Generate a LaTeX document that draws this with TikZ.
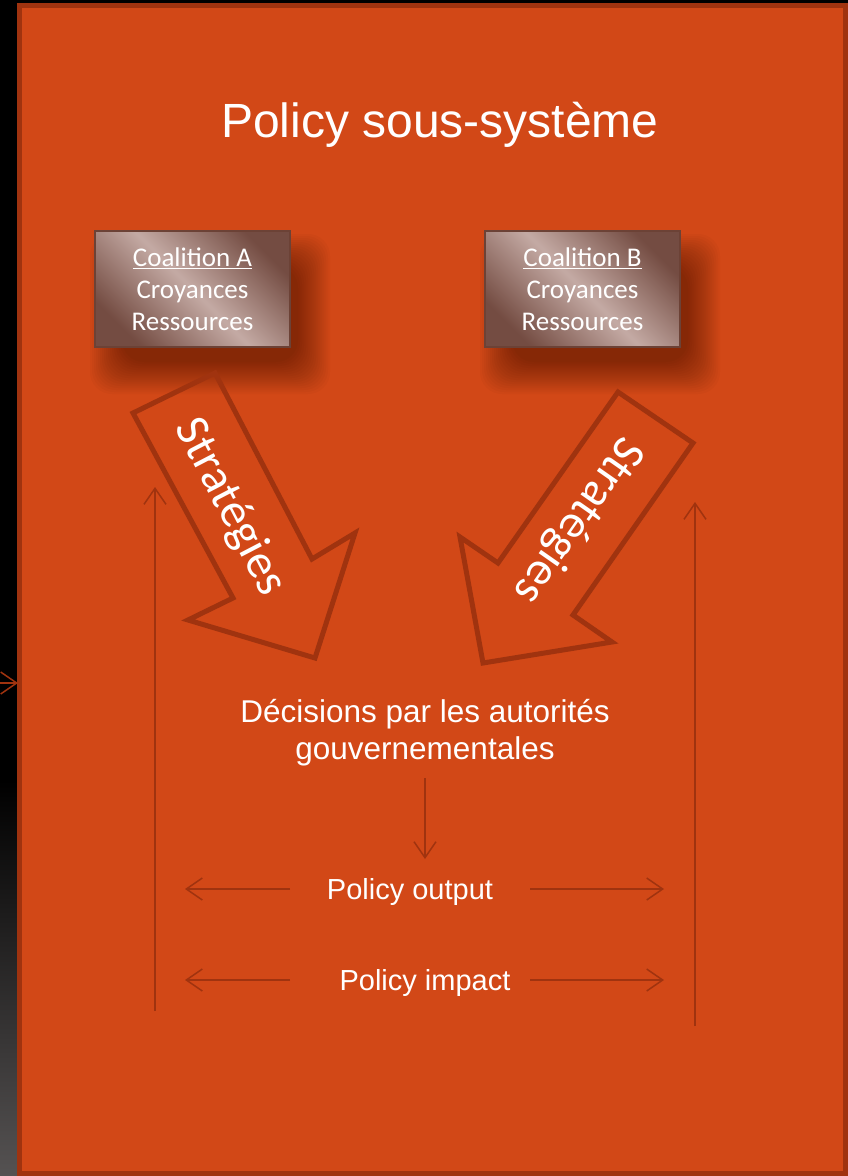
\documentclass[tikz,border=0pt]{standalone}
\usepackage{fontspec}
\setmainfont{Liberation Sans}
\newfontfamily\candara{Carlito}
\usetikzlibrary{arrows.meta}
\definecolor{bgorange}{RGB}{210,72,23}
\definecolor{edgebrown}{RGB}{160,51,15}
\definecolor{boxdark}{RGB}{116,76,66}
\definecolor{boxlight}{RGB}{196,170,164}
\definecolor{boxedge}{RGB}{108,66,54}
\definecolor{stripgray}{RGB}{85,82,82}
\tikzset{
  coal/.style={draw=boxedge, line width=1.5pt, minimum width=195pt, minimum height=116pt,
    inner sep=0pt, align=center, text=white,
    font=\candara\fontsize{27}{32}\selectfont,
    shading=axis, top color=boxdark, bottom color=boxdark, middle color=boxlight, shading angle=-45},
  softshadow/.style={fill=black, fill opacity=0.022, rounded corners=22pt},
  stratarrow/.style={draw=edgebrown, line width=5pt, line join=miter},
  strat/.style={text=white, font=\candara\fontsize{48}{52}\selectfont, inner sep=0pt},
  thinarrow/.style={draw=edgebrown, line width=1.5pt, -{Straight Barb[length=16pt,width=22pt,line width=1.5pt]}},
  lbl/.style={text=white, inner sep=0pt}
}
\begin{document}
\begin{tikzpicture}[x=1pt,y=-1pt]
\useasboundingbox (0,0) rectangle (848,1176);
\fill[black] (0,0) rectangle (848,1176);
\shade[top color=black, bottom color=stripgray] (0,780) rectangle (20,1176);
% left small arrow entering the frame
\coordinate (inL) at (0,683);
\coordinate (inR) at (18,683);
\draw[thinarrow] (inL) -- (inR);
% main frame
\draw[fill=bgorange, draw=edgebrown, line width=5pt] (19.5,5.5) rectangle (845.5,1173.5);
% title
\node[lbl, font=\fontsize{48}{56}\selectfont] (title) at (440,125) {Policy sous-système};
% soft shadows of the coalition boxes
\foreach \cx in {210,600}{
  \foreach \r in {0,2,...,32}{
    \fill[softshadow] (\cx-120+\r,314-80+\r) rectangle (\cx+120-\r,314+80-\r);
  }
}
% coalitions
\node[coal] (ca) at (192.5,289) {\underline{Coalition A}\\Croyances\\Ressources};
\node[coal] (cb) at (582.5,289) {\underline{Coalition B}\\Croyances\\Ressources};
% strategy arrows
\draw[stratarrow] (133,413) -- (215,373) -- (312,559) -- (355,533) -- (315,658) -- (188,620) -- (233,598) -- cycle;
\node[strat, rotate=-62.5] (sa) at (230,507) {Stratégies};
\draw[stratarrow] (618,392) -- (693,443) -- (573,615) -- (612,642) -- (483,663) -- (460,537) -- (498,563) -- cycle;
\node[strat, rotate=-125] (sb) at (578,520) {Stratégies};
% decisions
\node[lbl, align=center, font=\fontsize{31.5}{37}\selectfont] (dec) at (425,733) {Décisions par les autorités\\gouvernementales};
\coordinate (dtop) at (425,778);
\coordinate (dbot) at (425,859);
\draw[thinarrow] (dtop) -- (dbot);
% outputs
\node[lbl, font=\fontsize{29}{34}\selectfont] (out) at (410,892) {Policy output};
\node[lbl, font=\fontsize{29}{34}\selectfont] (imp) at (425,983) {Policy impact};
\coordinate (o1) at (290,889); \coordinate (o1t) at (185,889);
\coordinate (o2) at (530,889); \coordinate (o2t) at (664,889);
\coordinate (i1) at (290,980); \coordinate (i1t) at (185,980);
\coordinate (i2) at (530,980); \coordinate (i2t) at (664,980);
\draw[thinarrow] (o1) -- (o1t);
\draw[thinarrow] (o2) -- (o2t);
\draw[thinarrow] (i1) -- (i1t);
\draw[thinarrow] (i2) -- (i2t);
% feedback verticals
\coordinate (lvb) at (155,1011); \coordinate (lvt) at (155,487);
\coordinate (rvb) at (695,1026); \coordinate (rvt) at (695,502);
\draw[thinarrow] (lvb) -- (lvt);
\draw[thinarrow] (rvb) -- (rvt);
\end{tikzpicture}
\end{document}
